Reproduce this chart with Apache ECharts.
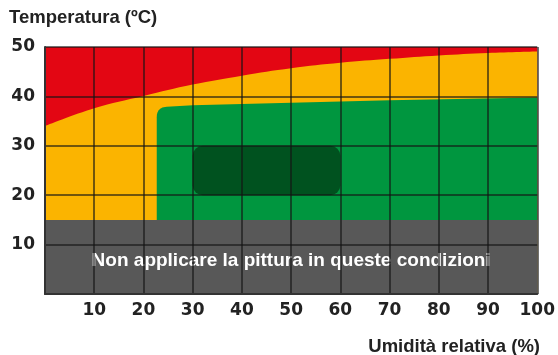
<!DOCTYPE html>
<html>
<head>
<meta charset="utf-8">
<script src="https://cdn.jsdelivr.net/npm/echarts@6/dist/echarts.min.js"></script>
<style>
  html, body { margin: 0; padding: 0; background: #fff; }
  #chart { width: 558px; height: 355px; }
</style>
</head>
<body>
<div id="chart"></div>
<script>
// Relative humidity (%) sample points for the upper temperature limit curve
const humidity = [0, 10, 20, 30, 40, 50, 60, 70, 80, 90, 100];
// Upper temperature limit (°C) for each humidity point: above it is red
const maxTemp = [34.0, 37.6, 40.1, 42.4, 44.2, 45.7, 46.8, 47.6, 48.3, 48.8, 49.1];
// Minimum application temperature (°C): below it painting is not allowed
const minTemp = 15;
// Recommended zone (green): left edge and sloping top boundary
const goodHumidity = [22.7, 30, 70, 100];
const goodTopTemp = [37.8, 38.2, 39.2, 39.8];
// Ideal zone (dark green)
const idealHumidity = [30, 60];
const idealTemp = [20, 30];
// Axis ranges
const humidityRange = [0, 100];
const tempRange = [0, 50];
const noteText = 'Non applicare la pittura in queste condizioni';
const notePos = [50, 6.8];

const COLORS = {
  red: '#e30613',
  yellow: '#fbb400',
  green: '#00963f',
  darkGreen: '#00521f',
  gray: '#585858'
};

const labelFont = 'DejaVu Sans';
const textFont = 'Liberation Sans';

function rectItem(fill, x0, x1, y0, y1, r) {
  return function (params, api) {
    const a = api.coord([x0, y1]);
    const b = api.coord([x1, y0]);
    return {
      type: 'rect',
      shape: { x: a[0], y: a[1], width: b[0] - a[0], height: b[1] - a[1], r: r || 0 },
      style: { fill: fill }
    };
  };
}

// Green zone with a rounded top-left corner
function goodZoneItem(params, api) {
  const r = 10;
  const pts = goodHumidity.map((h, i) => api.coord([h, goodTopTemp[i]]));
  const bl = api.coord([goodHumidity[0], minTemp]);
  const br = api.coord([goodHumidity[goodHumidity.length - 1], minTemp]);
  const tl = pts[0];
  const slope = (pts[1][1] - pts[0][1]) / (pts[1][0] - pts[0][0]);
  const A = [tl[0], tl[1] + r];
  const B = [tl[0] + r, tl[1] + slope * r];
  const poly = [bl, A];
  for (let i = 1; i < 12; i++) {
    const t = i / 12;
    const u = 1 - t;
    poly.push([
      u * u * A[0] + 2 * u * t * tl[0] + t * t * B[0],
      u * u * A[1] + 2 * u * t * tl[1] + t * t * B[1]
    ]);
  }
  poly.push(B);
  for (let i = 1; i < pts.length; i++) poly.push(pts[i]);
  poly.push(br);
  return { type: 'polygon', shape: { points: poly }, style: { fill: COLORS.green } };
}

function noteItem(params, api) {
  const rect = rectItem(COLORS.gray, humidityRange[0], humidityRange[1], tempRange[0], minTemp)(params, api);
  const p = api.coord(notePos);
  return {
    type: 'group',
    children: [
      rect,
      {
        type: 'text',
        x: p[0], y: p[1],
        style: {
          text: noteText,
          fill: '#ffffff',
          font: 'bold 19px "' + textFont + '"',
          align: 'center',
          verticalAlign: 'middle'
        }
      }
    ]
  };
}

const chart = echarts.init(document.getElementById('chart'), null, { renderer: 'canvas' });

chart.setOption({
  animation: false,
  backgroundColor: '#ffffff',
  title: [
    {
      text: 'Temperatura (ºC)',
      left: 9, top: 8, padding: 0,
      textStyle: { fontFamily: textFont, fontWeight: 'bold', fontSize: 18.5, color: '#222' }
    },
    {
      text: 'Umidità relativa (%)',
      right: 18, top: 337, padding: 0,
      textStyle: { fontFamily: textFont, fontWeight: 'bold', fontSize: 18.5, color: '#222' }
    }
  ],
  grid: { left: 45, right: 19, top: 47, bottom: 61, containLabel: false },
  xAxis: {
    type: 'value',
    min: humidityRange[0], max: humidityRange[1], interval: 10,
    z: 20,
    axisLine: { show: true, onZero: false, lineStyle: { color: '#333', width: 2 } },
    axisTick: { show: false },
    axisLabel: {
      margin: 8,
      fontFamily: labelFont, fontWeight: 'bold', fontSize: 17, color: '#222',
      formatter: v => (v === 0 ? '' : String(v))
    },
    splitLine: { show: true, lineStyle: { color: 'rgba(20,20,20,0.8)', width: 1.5 } }
  },
  yAxis: {
    type: 'value',
    min: tempRange[0], max: tempRange[1], interval: 10,
    z: 20,
    axisLine: { show: true, onZero: false, lineStyle: { color: '#333', width: 2 } },
    axisTick: { show: false },
    axisLabel: {
      margin: 10,
      fontFamily: labelFont, fontWeight: 'bold', fontSize: 17, color: '#222',
      formatter: v => (v === 0 ? '' : String(v))
    },
    splitLine: { show: true, lineStyle: { color: 'rgba(20,20,20,0.8)', width: 1.5 } }
  },
  series: [
    {
      // Too hot: above the upper limit curve
      type: 'custom',
      z: 1,
      renderItem: rectItem(COLORS.red, humidityRange[0], humidityRange[1], minTemp, tempRange[1]),
      data: [[0, 0]],
      clip: false,
      silent: true
    },
    {
      // Acceptable zone below the upper limit curve
      type: 'line',
      z: 2,
      data: humidity.map((h, i) => [h, maxTemp[i]]),
      smooth: 0.4,
      showSymbol: false,
      lineStyle: { width: 0 },
      areaStyle: { color: COLORS.yellow, opacity: 1, origin: 'start' },
      silent: true
    },
    {
      type: 'custom',
      z: 3,
      renderItem: goodZoneItem,
      data: [[0, 0]],
      clip: false,
      silent: true
    },
    {
      type: 'custom',
      z: 4,
      renderItem: rectItem(COLORS.darkGreen, idealHumidity[0], idealHumidity[1], idealTemp[0], idealTemp[1], 10),
      data: [[0, 0]],
      clip: false,
      silent: true
    },
    {
      // Below the minimum temperature
      type: 'custom',
      z: 5,
      renderItem: noteItem,
      data: [[0, 0]],
      clip: false,
      silent: true
    }
  ]
});
</script>
</body>
</html>
